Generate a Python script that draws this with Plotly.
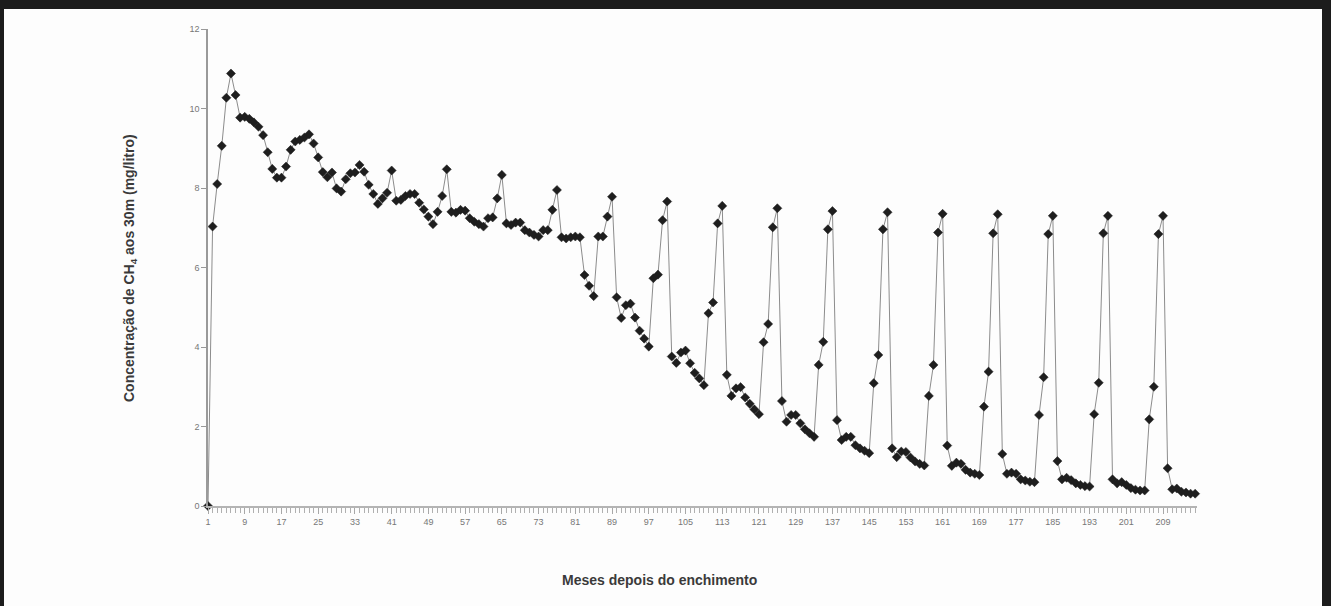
import plotly.graph_objects as go

# ---------------- data ----------------
early_values = [
    0, 7.03, 8.1, 9.06, 10.27, 10.88, 10.34, 9.77, 9.79, 9.74,
    9.65, 9.54, 9.33, 8.9, 8.48, 8.26, 8.26, 8.54, 8.96, 9.17,
    9.21, 9.27, 9.35, 9.12, 8.77, 8.4, 8.27, 8.39, 7.99, 7.91,
    8.22, 8.37, 8.39, 8.58, 8.41, 8.08, 7.85, 7.6, 7.74, 7.88,
    8.44, 7.68, 7.7, 7.8, 7.85, 7.85, 7.63, 7.46, 7.28, 7.09,
    7.4, 7.8, 8.47, 7.4, 7.38, 7.45, 7.43, 7.24, 7.15, 7.09,
    7.03, 7.24, 7.26, 7.74, 8.33, 7.11, 7.07, 7.13, 7.13, 6.94,
    6.88, 6.82, 6.78, 6.94, 6.94, 7.45, 7.95, 6.76, 6.73, 6.76,
    6.78, 6.76, 5.81, 5.54, 5.28, 6.78, 6.78, 7.28, 7.78,
]
cycle_1 = [5.25, 4.73, 5.05, 5.09, 4.74, 4.41, 4.21, 4.01, 5.73, 5.82, 7.19, 7.66]
cycle_2 = [3.76, 3.6, 3.86, 3.91, 3.59, 3.35, 3.21, 3.04, 4.85, 5.12, 7.11, 7.55]
cycle_3 = [3.3, 2.77, 2.96, 2.99, 2.73, 2.57, 2.43, 2.31, 4.12, 4.58, 7.01, 7.49]
cycle_4 = [2.64, 2.12, 2.29, 2.29, 2.08, 1.93, 1.83, 1.74, 3.55, 4.13, 6.96, 7.42]
cycle_5 = [2.16, 1.66, 1.74, 1.74, 1.53, 1.45, 1.39, 1.33, 3.09, 3.8, 6.96, 7.39]
cycle_6 = [1.45, 1.23, 1.37, 1.36, 1.22, 1.12, 1.06, 1.02, 2.77, 3.55, 6.88, 7.35]
cycle_7 = [1.52, 1.01, 1.09, 1.06, 0.91, 0.84, 0.81, 0.78, 2.5, 3.38, 6.86, 7.34]
cycle_8 = [1.31, 0.81, 0.84, 0.81, 0.67, 0.64, 0.61, 0.6, 2.29, 3.24, 6.84, 7.3]
cycle_9 = [1.13, 0.67, 0.71, 0.65, 0.57, 0.53, 0.5, 0.49, 2.31, 3.1, 6.86, 7.3]
cycle_10 = [0.67, 0.57, 0.6, 0.53, 0.45, 0.41, 0.39, 0.39, 2.18, 3.0, 6.84, 7.3]
tail_values = [0.95, 0.42, 0.44, 0.36, 0.34, 0.31, 0.31]

ch4 = (early_values + cycle_1 + cycle_2 + cycle_3 + cycle_4 + cycle_5 + cycle_6
       + cycle_7 + cycle_8 + cycle_9 + cycle_10 + tail_values)
months = list(range(1, len(ch4) + 1))

x_tick_labels = list(range(1, 210, 8))
y_tick_labels = list(range(0, 13, 2))

# ---------------- figure ----------------
W, H = 1331, 606
L, R, T, B = 208, 134, 29, 100
pw, ph = W - L - R, H - T - B

def px_x(p):
    return (p - L) / pw

def px_y(p):
    return (H - B - p) / ph

fig = go.Figure()
fig.add_trace(go.Scatter(
    x=months, y=ch4, mode="lines+markers",
    line=dict(color="#8c8c8c", width=1),
    marker=dict(symbol="diamond", size=7, color="#1e1e1e",
                line=dict(color="#1e1e1e", width=0.5)),
    cliponaxis=False, showlegend=False, hoverinfo="x+y",
))

font_family = "Arial, Liberation Sans, sans-serif"

fig.update_layout(
    width=W, height=H,
    margin=dict(l=L, r=R, t=T, b=B, pad=0),
    paper_bgcolor="#1c1c1c",
    plot_bgcolor="rgba(0,0,0,0)",
    font=dict(family=font_family, color="#666"),
    xaxis=dict(
        range=[1, len(ch4) + 0.4],
        tickmode="array", tickvals=x_tick_labels,
        ticktext=[str(v) for v in x_tick_labels],
        ticks="outside", ticklen=6, tickwidth=1, tickcolor="#a8a8a8",
        minor=dict(tickmode="linear", tick0=1, dtick=1, ticks="outside",
                   ticklen=5, tickwidth=1, tickcolor="#b0b0b0"),
        showline=True, linecolor="#b4b4b4", linewidth=2,
        showgrid=False, zeroline=False,
        tickfont=dict(size=9, color="#777", family=font_family),
    ),
    yaxis=dict(
        range=[0, 12], tickmode="array", tickvals=y_tick_labels,
        ticks="outside", ticklen=5, tickwidth=1, tickcolor="#999",
        showline=True, linecolor="#9a9a9a", linewidth=1.5,
        showgrid=False, zeroline=False,
        tickfont=dict(size=9, color="#777", family=font_family),
    ),
    shapes=[
        dict(type="rect", xref="paper", yref="paper", layer="below",
             x0=px_x(4), x1=px_x(1322), y0=px_y(606), y1=px_y(9),
             fillcolor="#fdfdfd", line=dict(width=0)),
    ],
    annotations=[
        dict(text="<b>Concentração de CH<sub>4</sub> aos 30m (mg/litro)</b>",
             xref="paper", yref="paper", x=px_x(130), y=px_y(268),
             textangle=-90, showarrow=False,
             font=dict(size=14, color="#3a3a3a", family=font_family),
             xanchor="center", yanchor="middle"),
        dict(text="<b>Meses depois do enchimento</b>",
             xref="paper", yref="paper", x=px_x(659), y=px_y(580),
             showarrow=False,
             font=dict(size=14, color="#3a3a3a", family=font_family),
             xanchor="center", yanchor="middle"),
    ],
)

fig.write_html("out.html")
